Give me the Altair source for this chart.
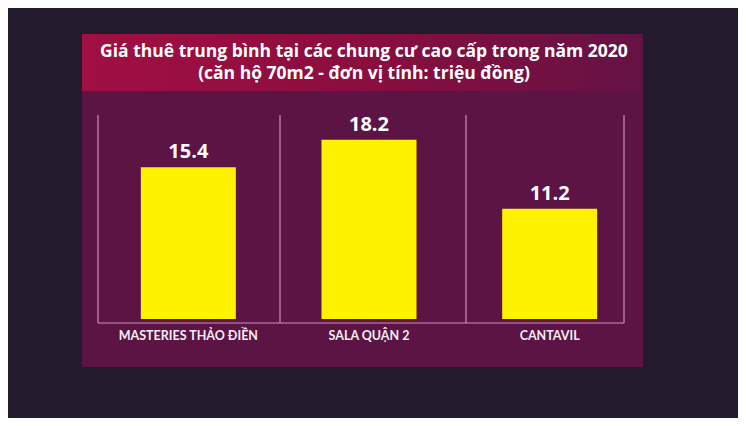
import altair as alt
import pandas as pd

categories = ["MASTERIES THẢO ĐIỀN", "SALA QUẬN 2", "CANTAVIL"]
values = [15.4, 18.2, 11.2]
value_labels = ["15.4", "18.2", "11.2"]
title_lines = [
    "Giá thuê trung bình tại các chung cư cao cấp trong năm 2020",
    "(căn hộ 70m2 - đơn vị tính: triệu đồng)",
]

df = pd.DataFrame({"cat": categories, "val": values, "lab": value_labels})
one = pd.DataFrame({"k": [0]})

W, H = 730, 410
FONT = "Lato"
TFONT = "Open Sans"

x_scale = alt.Scale(domain=categories, range=[90, 632], paddingInner=0, paddingOuter=0)
y_scale = alt.Scale(domain=[0, 20], range=[311, 114])

# decorative panels
panel = alt.Chart(one).mark_rect(color="#5c1445").encode(
    x=alt.value(74), x2=alt.value(635), y=alt.value(26), y2=alt.value(359)
)
title_box = alt.Chart(one).mark_rect(
    color=alt.Gradient(
        gradient="linear",
        stops=[
            alt.GradientStop(color="#a20f42", offset=0),
            alt.GradientStop(color="#8a0e3e", offset=0.5),
            alt.GradientStop(color="#651245", offset=1),
        ],
        x1=0, x2=1, y1=0, y2=0,
    )
).encode(x=alt.value(74), x2=alt.value(633), y=alt.value(26), y2=alt.value(83))

frame_color = "#c894b4"
vlines = [
    alt.Chart(one).mark_rule(color=frame_color, strokeWidth=1.2).encode(
        x=alt.value(xv), y=alt.value(107), y2=alt.value(315)
    )
    for xv in [90, 272, 458, 616]
]
baseline = alt.Chart(one).mark_rule(color=frame_color, strokeWidth=1.2).encode(
    x=alt.value(90), x2=alt.value(616), y=alt.value(315)
)

base = alt.Chart(df)
bars = base.mark_bar(color="#fff200", size=95).encode(
    x=alt.X("cat:N", scale=x_scale, axis=None, sort=categories),
    y=alt.Y("val:Q", scale=y_scale, axis=None),
)
vals = base.mark_text(
    font=TFONT, fontWeight="bold", fontSize=20, color="#ffffff", baseline="bottom", dy=-5
).encode(
    x=alt.X("cat:N", scale=x_scale, sort=categories),
    y=alt.Y("val:Q", scale=y_scale),
    text="lab:N",
)
cats = base.mark_text(
    font=FONT, fontWeight="bold", fontSize=12.5, color="#f4eef4", baseline="middle"
).encode(
    x=alt.X("cat:N", scale=x_scale, sort=categories),
    y=alt.value(328),
    text="cat:N",
)

t1 = alt.Chart(pd.DataFrame({"t": [title_lines[0]]})).mark_text(
    font=TFONT, fontWeight="bold", fontSize=17.5, color="#ffffff", baseline="middle"
).encode(x=alt.value(356), y=alt.value(44), text="t:N")
t2 = alt.Chart(pd.DataFrame({"t": [title_lines[1]]})).mark_text(
    font=TFONT, fontWeight="bold", fontSize=17.5, color="#ffffff", baseline="middle"
).encode(x=alt.value(356), y=alt.value(66), text="t:N")

chart = alt.layer(panel, title_box, *vlines, baseline, bars, vals, cats, t1, t2).properties(
    width=W, height=H, autosize=alt.AutoSizeParams(type="none"), padding=0,
    background="#231a2e",
).configure_view(stroke=None)

chart.save("out.html", embed_options={"renderer": "svg", "actions": False})
